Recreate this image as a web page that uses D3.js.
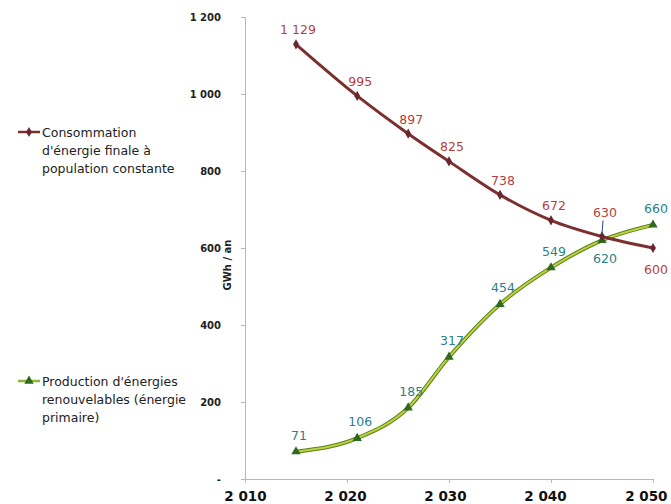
<!DOCTYPE html>
<html>
<head>
<meta charset="utf-8">
<script src="https://cdn.jsdelivr.net/npm/d3@7/dist/d3.min.js"></script>
<style>
  body { margin: 0; background: #fff; }
  svg { font-family: "DejaVu Sans", sans-serif; }
</style>
</head>
<body>
<svg id="chart" width="671" height="504"></svg>
<script>
// data
const years = [2015, 2021, 2026, 2030, 2035, 2040, 2045, 2050];
const consommation = [1129, 995, 897, 825, 738, 672, 630, 600];
const production = [71, 106, 185, 317, 454, 549, 620, 660];
const yTicks = [0, 200, 400, 600, 800, 1000, 1200];
const xTicks = [2010, 2020, 2030, 2040, 2050];
const legendConso = ["Consommation", "d'énergie finale  à", "population constante"];
const legendProd = ["Production d'énergies", "renouvelables (énergie", "primaire)"];

const svg = d3.select('#chart');
const fr = d3.formatLocale({ decimal: ",", thousands: " ", grouping: [3], currency: ["", ""] });
const fmt = fr.format(",");

const x = d3.scaleLinear().domain([2010, 2050]).range([245, 653]);
const y = d3.scaleLinear().domain([0, 1200]).range([479, 17]);

// axes
const yAxis = svg.append('g')
	.attr('transform', 'translate(245,0)')
	.call(d3.axisLeft(y).tickValues(yTicks).tickSize(4).tickPadding(20)
		.tickFormat(d => d === 0 ? '-' : fmt(d)));
yAxis.select('.domain').attr('stroke', '#b8b8b8');
yAxis.selectAll('.tick line').attr('stroke', '#b8b8b8');
yAxis.selectAll('.tick text')
	.attr('font-size', 10).attr('font-weight', 'bold').attr('fill', '#222')
	.attr('font-family', '"DejaVu Sans", sans-serif');

const xAxis = svg.append('g')
	.attr('transform', 'translate(0,479)')
	.call(d3.axisBottom(x).tickValues(xTicks).tickSize(4).tickSizeOuter(0).tickPadding(8)
		.tickFormat(d => fmt(d)));
xAxis.select('.domain').attr('stroke', '#b8b8b8');
xAxis.selectAll('.tick line').attr('stroke', '#b8b8b8');
xAxis.selectAll('.tick text')
	.attr('font-size', 13.5).attr('font-weight', 'bold').attr('fill', '#111')
	.attr('font-family', '"DejaVu Sans", sans-serif')
	.attr('dx', (d, i) => -i * 2);
// the last label sits fully inside the picture
xAxis.selectAll('.tick text').filter(d => d === 2050)
	.attr('text-anchor', 'end').attr('dx', 0).attr('x', 14);

svg.append('text')
	.attr('transform', 'translate(231,265) rotate(-90)')
	.attr('text-anchor', 'middle')
	.attr('font-size', 10).attr('font-weight', 'bold').attr('fill', '#222')
	.text('GWh / an');

const line = d3.line()
	.x((d, i) => x(years[i]))
	.y(d => y(d))
	.curve(d3.curveMonotoneX);

// production (green)
svg.append('path').datum(production).attr('d', line)
	.attr('fill', 'none').attr('stroke', '#5e7f22').attr('stroke-width', 4);
svg.append('path').datum(production).attr('d', line)
	.attr('fill', 'none').attr('stroke', '#b9d43c').attr('stroke-width', 2);

// consommation (red)
svg.append('path').datum(consommation).attr('d', line)
	.attr('fill', 'none').attr('stroke', '#7c2f2f').attr('stroke-width', 3);

const tri = d3.symbol().type(d3.symbolTriangle).size(38);
const dia = d3.symbol().type(d3.symbolDiamond).size(30);

svg.append('g').selectAll('path').data(production).join('path')
	.attr('d', tri)
	.attr('transform', (d, i) => `translate(${x(years[i])},${y(d)})`)
	.attr('fill', '#2f6b1f');

svg.append('g').selectAll('path').data(consommation).join('path')
	.attr('d', dia)
	.attr('transform', (d, i) => `translate(${x(years[i])},${y(d)})`)
	.attr('fill', '#6a2630');

// data labels
const last = years.length - 1;
svg.append('g').selectAll('text').data(consommation).join('text')
	.attr('x', (d, i) => x(years[i]) + (i === 0 ? 2 : 3))
	.attr('y', (d, i) => i === last ? y(d) + 26 : (i === last - 1 ? y(d) - 19 : y(d) - 10))
	.attr('text-anchor', 'middle')
	.attr('font-size', 12.5).attr('fill', '#b53f3c')
	.text(d => fmt(d));

// leader line for 630
svg.append('line')
	.attr('x1', x(years[last - 1]) + 1).attr('x2', x(years[last - 1]))
	.attr('y1', y(consommation[last - 1]) - 16).attr('y2', y(consommation[last - 1]) - 2)
	.attr('stroke', '#2b4a7a').attr('stroke-width', 1);

svg.append('g').selectAll('text').data(production).join('text')
	.attr('x', (d, i) => x(years[i]) + 3)
	.attr('y', (d, i) => i === last - 1 ? y(d) + 23 : y(d) - 12)
	.attr('text-anchor', 'middle')
	.attr('font-size', 12.5).attr('fill', '#2c7f8a')
	.text(d => fmt(d));

// legends
const legend = (lines, ly, color, sym) => {
	const g = svg.append('g');
	g.append('line').attr('x1', 18).attr('x2', 40).attr('y1', ly).attr('y2', ly)
		.attr('stroke', color).attr('stroke-width', 2.5);
	g.append('path').attr('d', sym).attr('transform', `translate(29,${ly})`)
		.attr('fill', color === '#7c2f2f' ? '#6a2630' : '#2f6b1f');
	g.selectAll('text').data(lines).join('text')
		.attr('x', 42).attr('y', (d, i) => ly + 5 + i * 18)
		.attr('font-size', 12.5).attr('fill', '#222')
		.text(d => d);
};
legend(legendConso, 132, '#7c2f2f', dia);
legend(legendProd, 381, '#8fb534', tri);
</script>
</body>
</html>
